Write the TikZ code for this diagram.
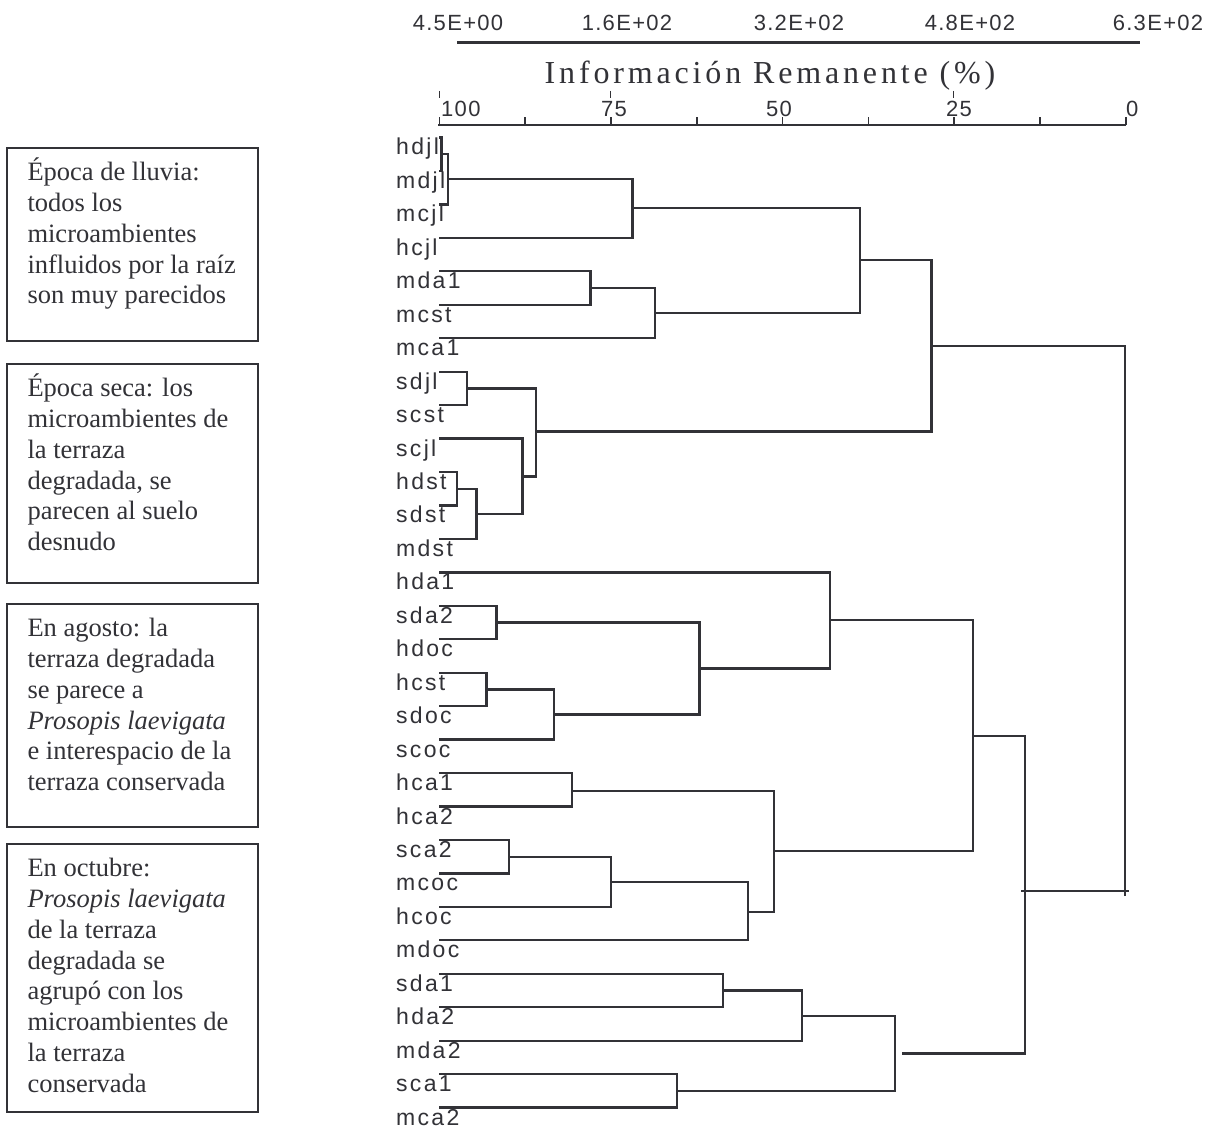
\documentclass[tikz,border=0pt]{standalone}
\usepackage{fontspec}
\setmainfont{Liberation Serif}
\newfontfamily\lblfont[LetterSpace=10]{Liberation Sans}
\newfontfamily\numfont[LetterSpace=6]{Liberation Sans}
\newfontfamily\ttlfont[LetterSpace=12]{Liberation Serif}
\definecolor{ink}{RGB}{50,50,55}
\begin{document}
\begin{tikzpicture}[x=1pt,y=-1pt,
  br/.style={draw=ink,line width=2.3pt,line cap=butt,line join=miter},
  leaf/.style={font=\lblfont\fontsize{23}{25}\selectfont,text=ink,inner sep=0pt,anchor=base west},
  axnum/.style={font=\numfont\fontsize{22}{24}\selectfont,text=ink,inner sep=0pt,anchor=base},
  box/.style={draw=ink,line width=1.8pt,anchor=north west,minimum width=251pt,inner sep=0pt},
  boxtxt/.style={font=\fontsize{26.5}{30.8}\selectfont,text=ink,inner sep=0pt,anchor=north west,align=left}]
\useasboundingbox (0,0) rectangle (1221,1129);
\fill[white] (0,0) rectangle (1221,1129);

% ---------- top scale ----------
\node[axnum] (u0) at (458,31) {4.5E+00};
\node[axnum] (u1) at (627,31) {1.6E+02};
\node[axnum] (u2) at (799,31) {3.2E+02};
\node[axnum] (u3) at (970,31) {4.8E+02};
\node[axnum] (u4) at (1158,31) {6.3E+02};
\coordinate (ua) at (457,43);
\coordinate (ub) at (1140,43);
\draw[br,line width=3pt] (ua) -- (ub);
\node[font=\ttlfont\fontsize{32}{34}\selectfont,text=ink,inner sep=0pt,anchor=base] (ttl) at (770,84) {Información Remanente (\%)};

% ---------- percent axis ----------
\node[axnum,anchor=base west] (p100) at (441,117) {100};
\node[axnum] (p75) at (614,117) {75};
\node[axnum] (p50) at (779,117) {50};
\node[axnum] (p25) at (959,117) {25};
\node[axnum,anchor=base west] (p0) at (1126,117) {0};
\foreach \xx in {439,610,953}{
  \coordinate (mk\xx a) at (\xx,91);
  \coordinate (mk\xx b) at (\xx,98);
  \draw[ink,line width=1pt] (mk\xx a) -- (mk\xx b);
}
\coordinate (aa) at (438,125);
\coordinate (ab) at (1126,125);
\draw[br,line width=2.6pt] (aa) -- (ab);
\foreach \k in {0,...,8}{
  \coordinate (tk\k a) at (439.3+85.8*\k,125);
  \coordinate (tk\k b) at (439.3+85.8*\k,117);
  \draw[ink,line width=1.6pt] (tk\k a) -- (tk\k b);
}

% ---------- leaves ----------
\foreach \n [count=\i from 0] in {hdjl,mdjl,mcjl,hcjl,mda1,mcst,mca1,sdjl,scst,scjl,hdst,sdst,mdst,hda1,sda2,hdoc,hcst,sdoc,scoc,hca1,hca2,sca2,mcoc,hcoc,mdoc,sda1,hda2,mda2,sca1,mca2}{
  \coordinate (\n) at (439,137.5+33.45*\i);
  \node[leaf] (t\n) at (396,155+33.45*\i) {\n};
}

% ---------- joins ----------
\coordinate (a1) at (441.5,154.2);
\coordinate (a2) at (448,179);
\coordinate (a3) at (632.5,208);
\coordinate (b1) at (590.5,288);
\coordinate (b2) at (655,313);
\coordinate (c1) at (860,260);
\coordinate (d1) at (467,388.4);
\coordinate (d2) at (457,488.7);
\coordinate (d3) at (476.5,514);
\coordinate (d4) at (522.5,476.5);
\coordinate (d5) at (536,431.5);
\coordinate (e1) at (931.5,346);
\coordinate (f1) at (496.5,622.5);
\coordinate (f2) at (486.5,689.4);
\coordinate (f3) at (554,714.5);
\coordinate (f4) at (699.5,668.5);
\coordinate (f5) at (830,620.3);
\coordinate (g1) at (571.7,790.8);
\coordinate (g2) at (509.3,856.7);
\coordinate (g3) at (610.7,881.8);
\coordinate (g4) at (748.3,911.7);
\coordinate (g5) at (774.3,851.2);
\coordinate (h1) at (972.7,735.7);
\coordinate (i1) at (723.3,990.5);
\coordinate (i2) at (802.3,1016);
\coordinate (i3) at (677.3,1091);
\coordinate (i4) at (895,1053.5);
\coordinate (i4g) at (902,1053.5);
\coordinate (j1) at (1025,891);
\coordinate (k1) at (1125,618);

\draw[br] (hdjl) -| (a1) |- (mdjl);
\draw[br] (a1) -| (a2) |- (mcjl);
\draw[br] (a2) -| (a3) |- (hcjl);
\draw[br] (mda1) -| (b1) |- (mcst);
\draw[br] (b1) -| (b2) |- (mca1);
\draw[br] (a3) -| (c1) |- (b2);
\draw[br] (sdjl) -| (d1) |- (scst);
\draw[br] (hdst) -| (d2) |- (sdst);
\draw[br] (d2) -| (d3) |- (mdst);
\draw[br] (scjl) -| (d4) |- (d3);
\draw[br] (d1) -| (d5) |- (d4);
\draw[br] (c1) -| (e1) |- (d5);
\draw[br] (sda2) -| (f1) |- (hdoc);
\draw[br] (hcst) -| (f2) |- (sdoc);
\draw[br] (f2) -| (f3) |- (scoc);
\draw[br] (f1) -| (f4) |- (f3);
\draw[br] (hda1) -| (f5) |- (f4);
\draw[br] (hca1) -| (g1) |- (hca2);
\draw[br] (sca2) -| (g2) |- (mcoc);
\draw[br] (g2) -| (g3) |- (hcoc);
\draw[br] (g3) -| (g4) |- (mdoc);
\draw[br] (g1) -| (g5) |- (g4);
\draw[br] (f5) -| (h1) |- (g5);
\draw[br] (sda1) -| (i1) |- (hda2);
\draw[br] (i1) -| (i2) |- (mda2);
\draw[br] (sca1) -| (i3) |- (mca2);
\draw[br] (i2) -| (i4) |- (i3);
\draw[br] (h1) -| (j1) |- (i4g);
\draw[br] (e1) -| (k1) |- (j1);
\coordinate (jx) at (1021,891);
\coordinate (kx) at (1128.5,891);
\coordinate (ky) at (1125,896);
\coordinate (kz) at (1125,885);
\draw[br,line width=1.6pt] (jx) -- (kx);
\draw[br,line width=1.6pt] (ky) -- (kz);

% ---------- boxes ----------
\node[box,minimum height=193pt] (box1) at (6,147) {};
\node[boxtxt] (txt1) at (27.3,155.5) {\rule{0pt}{25pt}Época de lluvia:\\todos los\\microambientes\\influidos por la raíz\\son muy parecidos};
\node[box,minimum height=219pt] (box2) at (6,363) {};
\node[boxtxt] (txt2) at (27.3,371.5) {\rule{0pt}{25pt}Época seca: los\\microambientes de\\la terraza\\degradada, se\\parecen al suelo\\desnudo};
\node[box,minimum height=223pt] (box3) at (6,603) {};
\node[boxtxt] (txt3) at (27.3,611.5) {\rule{0pt}{25pt}En agosto: la\\terraza degradada\\se parece a\\\textit{Prosopis laevigata}\\e interespacio de la\\terraza conservada};
\node[box,minimum height=268pt] (box4) at (6,843) {};
\node[boxtxt] (txt4) at (27.3,851.5) {\rule{0pt}{25pt}En octubre:\\\textit{Prosopis laevigata}\\de la terraza\\degradada se\\agrupó con los\\microambientes de\\la terraza\\conservada};
\end{tikzpicture}
\end{document}
